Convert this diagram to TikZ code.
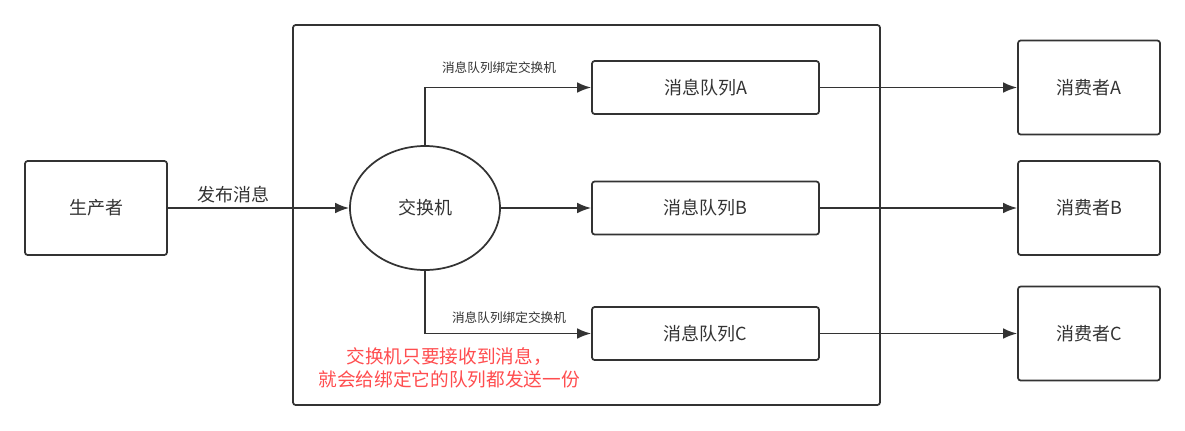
\documentclass[tikz,border=0pt]{standalone}
\usepackage{fontspec}
\setmainfont{Noto Sans CJK SC}
\usetikzlibrary{arrows.meta,positioning,shapes.geometric}
\definecolor{linegray}{HTML}{333333}
\definecolor{notered}{HTML}{FF4D4F}

\begin{document}
\begin{tikzpicture}[x=0.75pt,y=-0.75pt,font=\fontsize{13.5}{16}\selectfont,
    box/.style={draw=linegray,line width=1.3pt,rounded corners=2pt,text=linegray},
    rolebox/.style={box,minimum width=106.5pt,minimum height=70.5pt},
    queuebox/.style={box,minimum width=170.25pt,minimum height=39.75pt},
    link/.style={draw=linegray,line width=1.3pt,-{Latex[length=10.5pt,width=8pt]}},
    bindlabel/.style={text=linegray,font=\fontsize{9.5}{11}\selectfont}]
  \useasboundingbox (0,0) rectangle (1185,430);

  % container round the exchange and its queues
  \node[box,minimum width=440.25pt,minimum height=285pt] (broker) at (586.5,215) {};

  \node[rolebox] (producer) at (96,208) {生产者};
  \node[ellipse,draw=linegray,line width=1.3pt,text=linegray,
        minimum width=112.5pt,minimum height=93pt] (exchange) at (425,208) {交换机};

  \node[queuebox] (queueA) at (705.5,87.5) {消息队列A};
  \node[queuebox] (queueB) at (705.5,208) {消息队列B};
  \node[queuebox] (queueC) at (705.5,333.5) {消息队列C};

  \node[rolebox] (consumerA) at (1089,87.5) {消费者A};
  \node[rolebox] (consumerB) at (1089,208) {消费者B};
  \node[rolebox] (consumerC) at (1089,333.5) {消费者C};

  % connectors
  \draw[link] (producer) -- (exchange);
  \node[text=linegray,font=\fontsize{13.5}{16}\selectfont] (publish) at (233,195) {发布消息};

  \draw[link] (exchange.north) |- (queueA.west);
  \draw[link] (exchange) -- (queueB);
  \draw[link] (exchange.south) |- (queueC.west);
  \node[bindlabel] (bindA) at (499,68) {消息队列绑定交换机};
  \node[bindlabel] (bindC) at (509,318) {消息队列绑定交换机};

  \draw[link] (queueA) -- (consumerA);
  \draw[link] (queueB) -- (consumerB);
  \draw[link] (queueC) -- (consumerC);

  \node[text=notered,align=center,font=\fontsize{14}{17}\selectfont] (note) at (449,368)
    {交换机只要接收到消息，\\就会给绑定它的队列都发送一份};
\end{tikzpicture}
\end{document}
